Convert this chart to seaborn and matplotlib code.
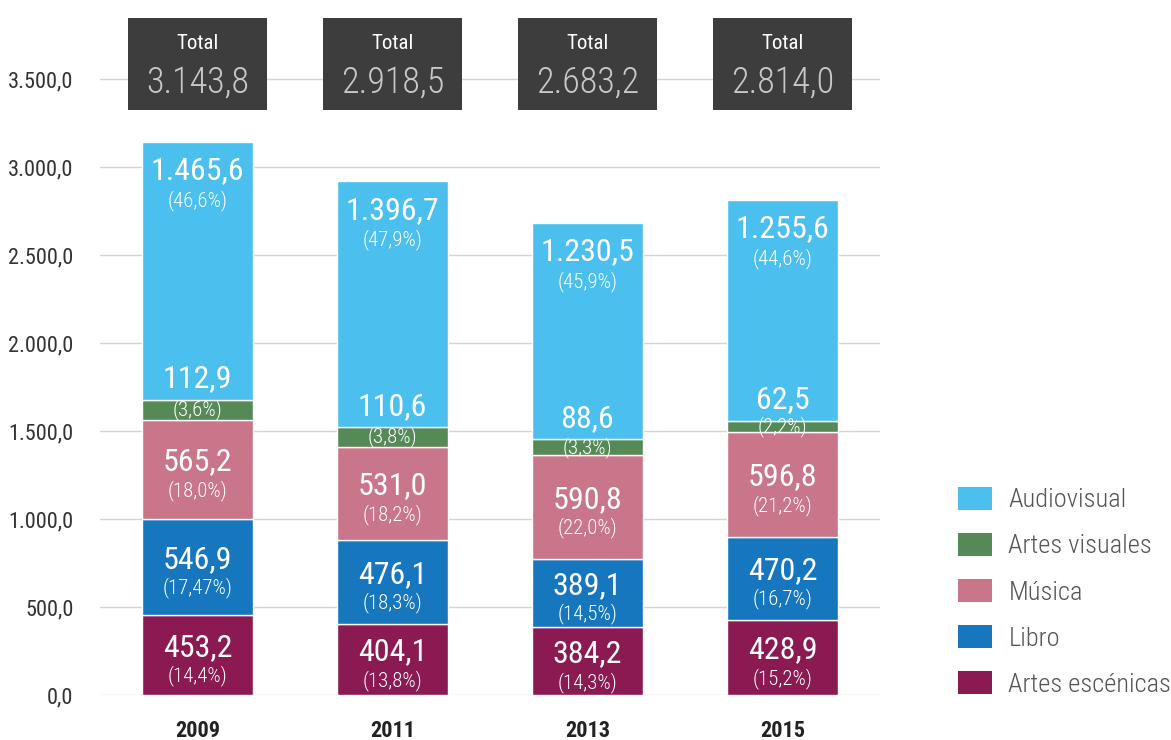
import matplotlib
matplotlib.use('Agg')
import matplotlib.pyplot as plt
from matplotlib import font_manager
from matplotlib.patches import Rectangle, Patch
import seaborn as sns
import pandas as pd
import numpy as np

# Data (millones), stacked bottom -> top
years = ['2009', '2011', '2013', '2015']
categories = ['Artes escénicas', 'Libro', 'Música', 'Artes visuales', 'Audiovisual']
escenicas = [453.2, 404.1, 384.2, 428.9]
libro = [546.9, 476.1, 389.1, 470.2]
musica = [565.2, 531.0, 590.8, 596.8]
visuales = [112.9, 110.6, 88.6, 62.5]
audiovisual = [1465.6, 1396.7, 1230.5, 1255.6]
totals = [3143.8, 2918.5, 2683.2, 2814.0]

pct_escenicas = ['14,4', '13,8', '14,3', '15,2']
pct_libro = ['17,47', '18,3', '14,5', '16,7']
pct_musica = ['18,0', '18,2', '22,0', '21,2']
pct_visuales = ['3,6', '3,8', '3,3', '2,2']
pct_audiovisual = ['46,6', '47,9', '45,9', '44,6']

colors = ['#8b1952', '#1677bf', '#c9758a', '#558a57', '#4bbfee']


def es_num(v):
    """Spanish number format: 3.143,8"""
    return '{:,.1f}'.format(v).replace(',', 'X').replace('.', ',').replace('X', '.')


def pick_font(names):
    available = {f.name for f in font_manager.fontManager.ttflist}
    for n in names:
        if n in available:
            return n
    return 'DejaVu Sans'


sns.set_style('white')
FONT = pick_font(['Roboto Condensed', 'Liberation Sans Narrow', 'DejaVu Sans'])
plt.rcParams['font.family'] = [FONT, 'DejaVu Sans']

df = pd.DataFrame({'year': years})
series = [escenicas, libro, musica, visuales, audiovisual]
pcts = [pct_escenicas, pct_libro, pct_musica, pct_visuales, pct_audiovisual]

fig = plt.figure(figsize=(11.71, 7.40), dpi=100)
ax = fig.add_axes([100 / 1171, 45 / 740, 780 / 1171, 695 / 740])

bottom = np.zeros(len(years))
for cat, vals, col in zip(categories, series, colors):
    df[cat] = vals
    sns.barplot(data=df, x='year', y=cat, bottom=bottom, color=col, width=0.567,
                saturation=1, ax=ax, zorder=3)
    bottom = bottom + np.array(vals)

ax.set_xlim(-0.5, 3.5)
ax.set_ylim(0, 3949)
ax.set_yticks(np.arange(0, 3501, 500))
ax.set_yticklabels([es_num(v) for v in np.arange(0, 3501, 500)], fontsize=16, color='#333333')
ax.set_xticks(range(len(years)))
ax.set_xticklabels(years, fontsize=16, fontweight='bold', color='#222222')
ax.tick_params(axis='x', length=0, pad=18)
ax.tick_params(axis='y', length=0, pad=19)
ax.set_xlabel('')
ax.set_ylabel('')
ax.yaxis.grid(True, color='#d9d3cc', lw=1, zorder=0)
ax.xaxis.grid(False)
for s in ax.spines.values():
    s.set_visible(False)

# Segment labels
txt = dict(ha='center', va='center', color='white', textcoords='offset points')
cum = np.zeros(len(years))
for k, (vals, pc) in enumerate(zip(series, pcts)):
    for i, v in enumerate(vals):
        lo, hi = cum[i], cum[i] + v
        mid = (lo + hi) / 2
        if categories[k] == 'Audiovisual':
            ax.annotate(es_num(v), (i, hi), xytext=(0, -21), fontsize=23, **txt)
            ax.annotate('(' + pc[i] + '%)', (i, hi), xytext=(0, -42), fontsize=15,
                        fontweight='light', **txt)
        elif categories[k] == 'Artes visuales':
            ax.annotate(es_num(v), (i, hi), xytext=(0, 15), fontsize=23, **txt)
            ax.annotate('(' + pc[i] + '%)', (i, mid), xytext=(0, 0), fontsize=15,
                        fontweight='light', **txt)
        else:
            ax.annotate(es_num(v), (i, mid), xytext=(0, 5.5), fontsize=23, **txt)
            ax.annotate('(' + pc[i] + '%)', (i, mid), xytext=(0, -15), fontsize=15,
                        fontweight='light', **txt)
    cum = cum + np.array(vals)

# Total boxes
for i, t in enumerate(totals):
    ax.add_patch(Rectangle((i - 0.358, 3324), 0.716, 523, facecolor='#3d3d3d',
                           edgecolor='none', zorder=4, clip_on=False))
    ax.text(i, 3699, 'Total', ha='center', va='center', color='white', fontsize=15, zorder=5)
    ax.text(i, 3480, es_num(t), ha='center', va='center', color='#c8c8c8', fontsize=26,
            fontweight='light', zorder=5)

# Legend
handles = [Patch(facecolor=c, edgecolor='none', label=l)
           for l, c in zip(categories[::-1], colors[::-1])]
fig.legend(handles=handles, loc='upper left', bbox_to_anchor=(958 / 1171, 1 - 487 / 740),
           frameon=False, prop={'size': 19, 'weight': 'light'}, handlelength=1.29,
           handleheight=0.95, labelspacing=0.78, handletextpad=0.62, borderpad=0,
           borderaxespad=0, labelcolor='#555555')

fig.savefig('out.png', dpi=100)
